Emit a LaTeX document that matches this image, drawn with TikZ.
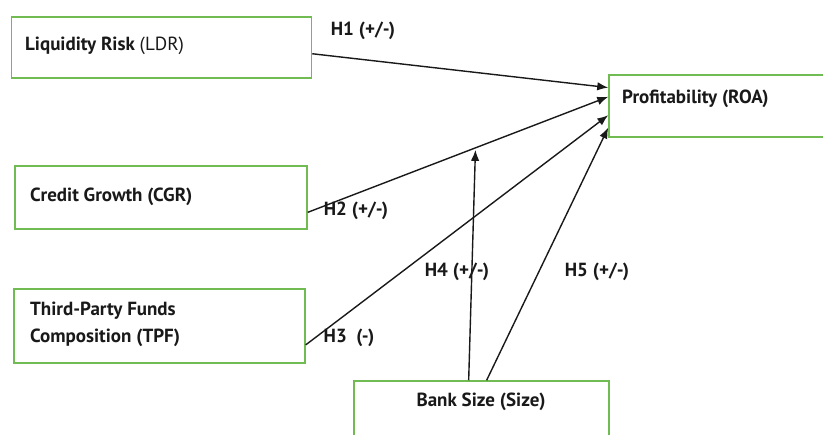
\documentclass[tikz,border=0pt]{standalone}
\usepackage{fontspec}
\setmainfont{PT Sans}
\usetikzlibrary{arrows.meta,calc}
\definecolor{boxgreen}{RGB}{112,188,82}
\definecolor{ink}{RGB}{25,25,25}
\begin{document}
\begin{tikzpicture}[x=1pt,y=-1pt,
  varbox/.style={draw=boxgreen,line width=1.5pt,fill=white,rectangle,inner sep=0pt},
  vartext/.style={anchor=west,inner sep=0pt,font=\fontsize{19}{27}\selectfont\bfseries,text=ink,align=left},
  hyp/.style={inner sep=0pt,font=\fontsize{19}{27}\selectfont\bfseries,text=ink},
  link/.style={draw=ink,line width=1.4pt,-{Latex[length=11pt,width=8.5pt]}}]
\useasboundingbox (0,0) rectangle (823,435);

% variable boxes
\node[varbox,minimum width=300pt,minimum height=61pt] (ldr) at (161.5,47.5) {};
\node[varbox,minimum width=292pt,minimum height=63pt] (cgr) at (161,197.5) {};
\node[varbox,minimum width=291pt,minimum height=74pt] (tpf) at (159.5,326) {};
\node[varbox,minimum width=255pt,minimum height=80pt] (size) at (481.5,421) {};
\node[varbox,minimum width=240pt,minimum height=62pt] (roa) at (729,106) {};

% box captions
\node[vartext] (ldrt) at (25,46) {Liquidity Risk \mdseries(LDR)};
\node[vartext] (cgrt) at (30,197) {Credit Growth (CGR)};
\node[vartext] (tpft) at (30,324.5) {Third-Party Funds\\Composition (TPF)};
\node[hyp] (sizet) at (481,402) {Bank Size (Size)};
\node[vartext] (roat) at (622,99) {Profitability (ROA)};

% hypothesised paths
\draw[link] ($(ldr.north east)!0.6!(ldr.south east)$) -- ($(roa.north west)!0.21!(roa.south west)$);
\draw[link] ($(cgr.north east)!0.73!(cgr.south east)$)
  -- coordinate[pos=0.558] (mod) ($(roa.north west)!0.355!(roa.south west)$);
\draw[link] ($(tpf.north east)!0.75!(tpf.south east)$) -- ($(roa.north west)!0.645!(roa.south west)$);
\draw[link] ($(size.north west)!0.45!(size.north east)$) -- ([yshift=-2pt]mod);
\draw[link] ($(size.north west)!0.52!(size.north east)$) -- ($(roa.north west)!0.84!(roa.south west)$);

% hypothesis labels
\node[hyp] (h1) at (363,31) {H1 (+/-)};
\node[hyp] (h2) at (356,211) {H2 (+/-)};
\node[hyp] (h3) at (349,338) {H3\ \ (-)};
\node[hyp] (h4) at (457,272) {H4 (+/-)};
\node[hyp] (h5) at (597,272) {H5 (+/-)};
\end{tikzpicture}
\end{document}
